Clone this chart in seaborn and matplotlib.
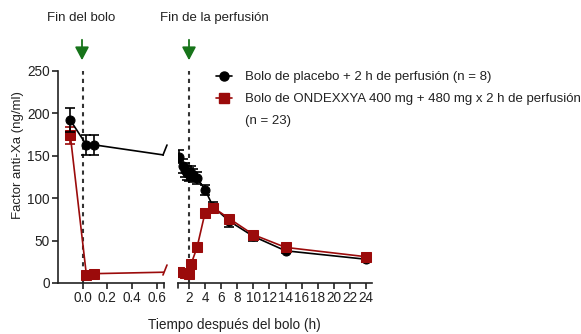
import numpy as np
import pandas as pd
import matplotlib
matplotlib.use("Agg")
import matplotlib.pyplot as plt
import seaborn as sns
from matplotlib.lines import Line2D

# ---- data ----
# Left panel (hours, bolus phase)
pbo_left_t = [-0.1, 0.03, 0.09]
pbo_left_v = [192, 163, 163]
pbo_left_e = [14, 12, 12]
and_left_t = [-0.1, 0.03, 0.09]
and_left_v = [174, 10, 11]
and_left_e = [10, 2, 2]

# Right panel (hours)
pbo_right_t = [0.75, 1.25, 1.5, 1.75, 2.0, 2.25, 2.5, 3.0, 4, 5, 7, 10, 14, 24]
pbo_right_v = [149, 138, 133, 130, 128, 130, 127, 124, 110, 90, 73, 55, 38, 28]
pbo_right_e = [8, 8, 8, 8, 8, 8, 8, 7, 6, 5, 7, 5, 3, 3]
and_right_t = [0.75, 1.5, 2.0, 2.25, 3.0, 4, 5, 7, 10, 14, 24]
and_right_v = [13, 12, 11, 22, 42, 83, 89, 76, 57, 42, 31]
and_right_e = [2, 2, 2, 2, 3, 4, 4, 4, 4, 3, 2]

left_ticks = [0.0, 0.2, 0.4, 0.6]
left_ticklabels = ["0.0", "0.2", "0.4", "0.6"]
right_ticks = list(range(2, 25, 2))
y_ticks = [0, 50, 100, 150, 200, 250]

label_pbo = "Bolo de placebo + 2 h de perfusión (n = 8)"
label_and = "Bolo de ONDEXXYA 400 mg + 480 mg x 2 h de perfusión"
label_and2 = "(n = 23)"
ylabel = "Factor anti-Xa (ng/ml)"
xlabel = "Tiempo después del bolo (h)"
ann1 = "Fin del bolo"
ann2 = "Fin de la perfusión"

BLACK = "#000000"
RED = "#9b0b0b"
GREEN = "#17741a"

sns.set_theme(style="ticks")
plt.rcParams['font.family'] = ['Liberation Sans', 'DejaVu Sans']

W, H = 581, 334
fig = plt.figure(figsize=(W / 100, H / 100), dpi=100)

def fx(px):
    return px / W

def fy(py):
    return 1 - py / H

ybot, ytop = fy(283), fy(71)
axL = fig.add_axes([fx(58), ybot, fx(164) - fx(58), ytop - ybot])
axR = fig.add_axes([fx(178), ybot, fx(372) - fx(178), ytop - ybot])

MS_C, MS_S = 6.5, 7.2

def draw(ax, t, v, e, color, marker, ms, z):
    df = pd.DataFrame({"t": t, "v": v})
    ax.errorbar(t, v, yerr=e, fmt="none", ecolor=color, elinewidth=1.2,
                capsize=3.5, capthick=1.2, zorder=z)
    sns.lineplot(data=df, x="t", y="v", ax=ax, color=color, marker=marker,
                 markersize=ms, markeredgecolor=color, linewidth=1.2,
                 sort=False, zorder=z + 0.5, legend=False)

# left panel: include first point of right panel so line continues to break
draw(axL, pbo_left_t + [pbo_right_t[0]], pbo_left_v + [pbo_right_v[0]],
     pbo_left_e + [0], BLACK, "o", MS_C, 3)
draw(axL, and_left_t + [and_right_t[0]], and_left_v + [and_right_v[0]],
     and_left_e + [0], RED, "s", MS_S, 2)
draw(axR, pbo_right_t, pbo_right_v, pbo_right_e, BLACK, "o", MS_C, 2)
draw(axR, and_right_t, and_right_v, and_right_e, RED, "s", MS_S, 3)

for ax in (axL, axR):
    ax.set_ylim(0, 250)
    ax.set_xlabel("")
    ax.set_ylabel("")
    ax.spines["top"].set_visible(False)
    ax.spines["right"].set_visible(False)
    for s in ax.spines.values():
        s.set_linewidth(1.2)
        s.set_color("#222222")
    ax.tick_params(axis="both", direction="out", length=4, width=1.2,
                   labelsize=9.8, colors="#222222", pad=2)

axL.set_xlim(-0.2, 0.66)
axL.set_xticks(left_ticks)
axL.set_xticklabels(left_ticklabels)
axL.set_yticks(y_ticks)
axL.axvline(0.0, color="#333333", linestyle=(0, (2, 2)), linewidth=1.5, zorder=1)

axR.set_xlim(0.634, 24.75)
axR.set_xticks(right_ticks)
axR.set_yticks([])
axR.spines["left"].set_visible(False)
axR.axvline(2.0, color="#333333", linestyle=(0, (2, 2)), linewidth=1.5, zorder=1)

# break marks on axis ends
for px in (164, 178):
    fig.add_artist(Line2D([fx(px), fx(px)], [fy(283), fy(288)],
                          transform=fig.transFigure, color="#222222", lw=1.2))
# break marks on lines
for (px, py, c) in [(165, 150, BLACK), (165, 270, RED)]:
    fig.add_artist(Line2D([fx(px - 2), fx(px + 2)], [fy(py + 5), fy(py - 5)],
                          transform=fig.transFigure, color=c, lw=1.2))

# annotations
fig.text(fx(81), fy(18), ann1, ha="center", va="center", fontsize=9.5, color="#222222")
fig.text(fx(160), fy(18), ann2, ha="left", va="center", fontsize=9.5, color="#222222")
for px in (82, 189):
    fig.add_artist(matplotlib.patches.FancyArrowPatch(
        (fx(px), fy(37)), (fx(px), fy(63)), transform=fig.transFigure,
        arrowstyle="-|>,head_length=3.6,head_width=1.9", color=GREEN, lw=1.3,
        mutation_scale=2.2))

# legend (manual)
for (py, c, m, ms) in [(76, BLACK, "o", MS_C), (98, RED, "s", MS_S)]:
    fig.add_artist(Line2D([fx(216), fx(232)], [fy(py), fy(py)],
                          transform=fig.transFigure, color=c, lw=1.2))
    fig.add_artist(Line2D([fx(224)], [fy(py)], transform=fig.transFigure,
                          color=c, marker=m, markersize=ms, markeredgecolor=c))
fig.text(fx(245), fy(77), label_pbo, ha="left", va="center", fontsize=9.5, color="#222222")
fig.text(fx(245), fy(99), label_and, ha="left", va="center", fontsize=9.5, color="#222222")
fig.text(fx(245), fy(121), label_and2, ha="left", va="center", fontsize=9.5, color="#222222")

fig.text(fx(18), fy(155), ylabel, rotation=90, ha="center", va="center",
         fontsize=9.5, color="#222222")
fig.text(fx(234), fy(325), xlabel, ha="center", va="center", fontsize=9.8,
         color="#222222")

fig.savefig("out.png", dpi=100)
